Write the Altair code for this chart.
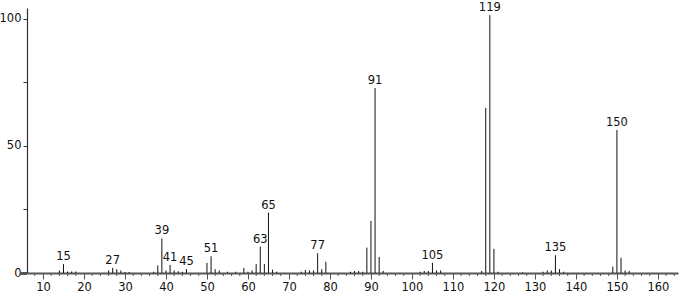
import altair as alt
import pandas as pd

mz = [14, 15, 16, 17, 18,
      26, 27, 28, 29, 30, 31,
      37, 38, 39, 40, 41, 42, 43, 44, 45,
      50, 51, 52, 53, 55, 57,
      59, 60, 61, 62, 63, 64, 65, 66, 67,
      73, 74, 75, 76, 77, 78, 79,
      85, 86, 87, 88, 89, 90, 91, 92, 93,
      102, 103, 104, 105, 106, 107,
      117, 118, 119, 120, 121,
      127, 132, 133, 134, 135, 136, 137,
      149, 150, 151, 152, 153]
intensity = [1.0, 3.5, 0.6, 0.6, 0.6,
             1.0, 2.0, 1.5, 1.0, 0.4, 0.4,
             0.5, 3.0, 13.6, 1.0, 3.2, 1.0, 0.7, 0.5, 1.5,
             4.0, 6.6, 1.5, 1.0, 0.5, 0.5,
             2.0, 0.5, 1.0, 3.5, 10.4, 3.5, 23.8, 1.3, 0.5,
             0.5, 1.2, 1.0, 1.0, 7.8, 1.5, 4.4,
             0.5, 0.8, 0.8, 0.5, 10.0, 20.5, 72.8, 6.3, 0.8,
             0.5, 0.8, 0.8, 4.0, 1.0, 1.0,
             0.8, 65.0, 101.5, 9.5, 0.5,
             0.3, 0.5, 1.0, 1.0, 7.0, 1.5, 0.5,
             2.5, 56.3, 6.0, 1.0, 0.8]
label_mz = [15, 27, 39, 41, 45, 51, 63, 65, 77, 91, 105, 119, 135, 150]
major_ticks = list(range(10, 170, 10))
minor_ticks = [v for v in range(8, 165, 2) if v % 10 != 0]

df = pd.DataFrame({"mz": mz, "intensity": intensity})
df["zero"] = 0.0
labels = df[df["mz"].isin(label_mz)].copy()
labels["text"] = labels["mz"].astype(str)
minor_df = pd.DataFrame({"t": minor_ticks})

FONT = "DejaVu Sans"
AX = "#555"

xscale = alt.Scale(domain=[6.1, 164.9], nice=False, zero=False)
yscale = alt.Scale(domain=[0, 104.3], nice=False)

xaxis = alt.Axis(
    values=major_ticks, tickSize=6,
    title=None, grid=False, domain=True, domainColor=AX, domainWidth=2,
    tickColor=AX,
    labelFont=FONT, labelFontSize=11.5, labelColor="#111", labelPadding=2,
    labelFlush=False, labelOverlap=False,
)
yaxis = alt.Axis(
    values=[0, 25, 50, 75, 100],
    labelExpr="(datum.value == 0 || datum.value == 50 || datum.value == 100) ? datum.label : ''",
    tickSize=4, title=None, grid=False, domainColor="#333", domainWidth=1.2,
    tickColor="#333",
    labelFont=FONT, labelFontSize=11.5, labelColor="#111", labelPadding=2,
    labelFlush=False, labelOverlap=False,
)

bars = alt.Chart(df).mark_rule(color="#111", strokeWidth=1).encode(
    x=alt.X("mz:Q", scale=xscale, axis=xaxis),
    y=alt.Y("intensity:Q", scale=yscale, axis=yaxis),
    y2="zero:Q",
)

minor = alt.Chart(minor_df).mark_rule(color=AX, strokeWidth=1).encode(
    x=alt.X("t:Q", scale=xscale),
    y=alt.value(265),
    y2=alt.value(268),
)

xstub = alt.Chart(minor_df).mark_rule(color=AX, strokeWidth=2).encode(
    x=alt.value(-7), x2=alt.value(0), y=alt.value(265.5),
)

text = alt.Chart(labels).mark_text(
    baseline="bottom", dy=-2, font=FONT, fontSize=11.5, color="#111"
).encode(
    x=alt.X("mz:Q", scale=xscale),
    y=alt.Y("intensity:Q", scale=yscale),
    text="text:N",
)

chart = alt.layer(bars, minor, xstub, text).properties(
    width=651, height=265,
    autosize=alt.AutoSizeParams(type="none"),
    padding={"left": 27, "top": 8, "right": 2, "bottom": 23},
    background="white",
).configure_view(stroke=None)

chart.save("out.html", embed_options={"renderer": "svg", "actions": False})
